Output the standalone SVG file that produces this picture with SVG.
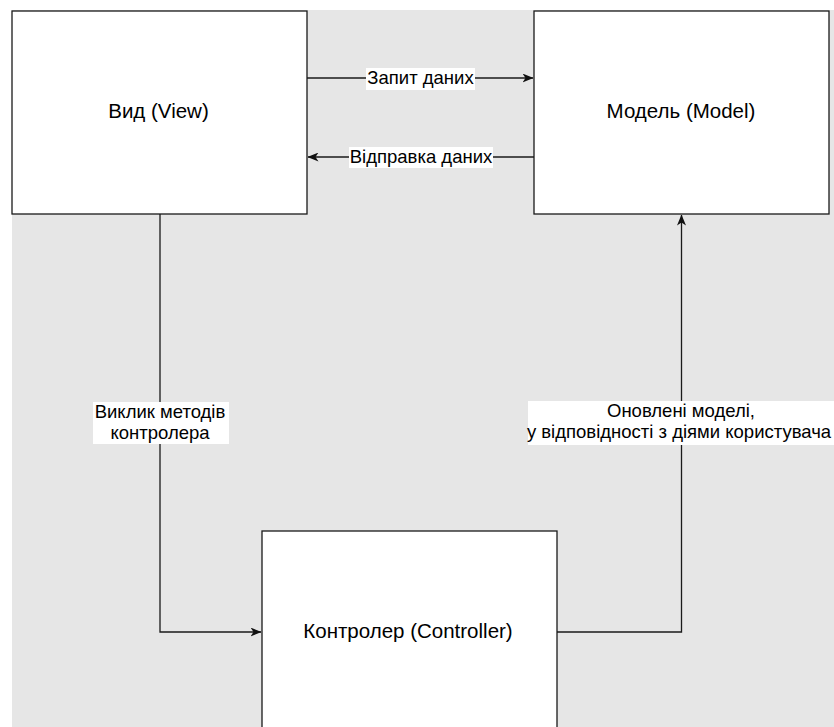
<svg xmlns="http://www.w3.org/2000/svg" width="834" height="727" viewBox="0 0 834 727">
<style>
.node{fill:#ffffff;stroke:#1a1a1a;stroke-width:1.3}
.lbl{font-family:"Liberation Sans",Arial,sans-serif;font-size:20.5px;fill:#000;text-anchor:middle}
.elbl{font-family:"Liberation Sans",Arial,sans-serif;font-size:18.5px;fill:#000;text-anchor:middle}
.edge{fill:none;stroke:#1a1a1a;stroke-width:1.3}
.lbg{fill:#ffffff}
</style>
<defs>
<marker id="arr" viewBox="0 0 11 9" refX="10.5" refY="4.5" markerWidth="11" markerHeight="9" markerUnits="userSpaceOnUse" orient="auto">
<path d="M0,0 L11,4.5 L0,9 L3,4.5 Z" fill="#111"/>
</marker>
</defs>
<rect x="0" y="0" width="834" height="727" fill="#ffffff"/>
<rect x="12" y="10" width="822" height="717" fill="#e6e6e6"/>
<g id="connectors">
<path class="edge" d="M307,78 L533,78" marker-end="url(#arr)"/>
<path class="edge" d="M534,157 L308,157" marker-end="url(#arr)"/>
<path class="edge" d="M160,214 L160,632 L261,632" marker-end="url(#arr)"/>
<path class="edge" d="M557,632 L681.5,632 L681.5,215" marker-end="url(#arr)"/>
<rect class="lbg" x="366" y="68" width="109" height="22"/>
<text class="elbl" x="420.5" y="84">Запит даних</text>
<rect class="lbg" x="349" y="147" width="144" height="21"/>
<text class="elbl" x="421" y="163">Відправка даних</text>
<rect class="lbg" x="93" y="402" width="136" height="42"/>
<text class="elbl" x="160" y="418">Виклик методів</text>
<text class="elbl" x="160" y="439">контролера</text>
<rect class="lbg" x="528" y="401" width="306" height="44"/>
<text class="elbl" x="681" y="417">Оновлені моделі,</text>
<text class="elbl" x="679" y="438">у відповідності з діями користувача</text>
</g>
<g id="view">
<rect class="node" x="12" y="11" width="295" height="203"/>
<text class="lbl" x="158.5" y="118">Вид (View)</text>
</g>
<g id="model">
<rect class="node" x="534" y="11" width="295" height="203"/>
<text class="lbl" x="681" y="118">Модель (Model)</text>
</g>
<g id="controller">
<rect class="node" x="262" y="531" width="295" height="203"/>
<text class="lbl" x="408" y="638">Контролер (Controller)</text>
</g>
</svg>
